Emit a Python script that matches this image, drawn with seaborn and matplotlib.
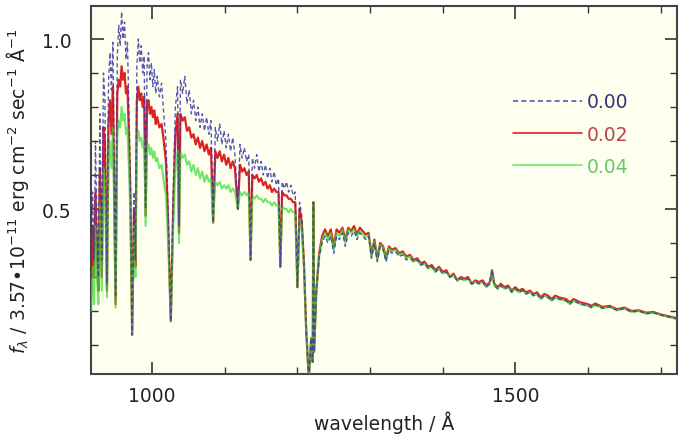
import matplotlib
matplotlib.use('Agg')
import matplotlib.pyplot as plt
from matplotlib.ticker import MultipleLocator
import seaborn as sns
import pandas as pd

# spectrum: wavelength (A) and flux for three E(B-V) values
wavelength = [
    916, 918, 920, 922, 924, 926, 928, 930.7, 933, 935, 937.8, 940, 942, 944, 946, 949.7,
    952, 954, 956, 958, 960, 962, 964, 966, 968, 970, 972.5, 975, 977, 979, 981, 983,
    985, 987, 989, 991, 993, 995, 997, 999, 1001, 1003, 1005, 1007, 1010, 1013, 1016, 1019,
    1022, 1025.7, 1029, 1032, 1035, 1037, 1039, 1042, 1045, 1048, 1051, 1054, 1057, 1060,
    1063, 1066, 1069, 1072, 1075, 1078, 1081, 1084, 1087, 1090, 1093, 1096, 1099, 1102,
    1105, 1108, 1111, 1114, 1118, 1121, 1124, 1127, 1130, 1133, 1135.5, 1138, 1141, 1144,
    1147, 1150, 1153, 1156, 1159, 1162, 1165, 1168, 1171, 1174, 1176.5, 1179, 1182, 1185,
    1188, 1191, 1194, 1197, 1200, 1203, 1206, 1209, 1212, 1215.7, 1219, 1221, 1222, 1223,
    1226, 1230, 1234, 1238, 1242, 1246, 1250, 1254, 1258, 1262, 1266, 1270, 1274, 1278,
    1282, 1286, 1290, 1294, 1298, 1302, 1306, 1310, 1314, 1318, 1322, 1326, 1330, 1335,
    1340, 1345, 1350, 1355, 1360, 1365, 1370, 1375, 1380, 1385, 1390, 1395, 1400, 1405,
    1410, 1415, 1420, 1425, 1430, 1435, 1440, 1445, 1450, 1455, 1460, 1465, 1468, 1471,
    1476, 1480, 1485, 1490, 1495, 1500, 1505, 1510, 1515, 1520, 1525, 1530, 1535, 1540,
    1545, 1550, 1555, 1560, 1570, 1575, 1580, 1590, 1600, 1605, 1610, 1620, 1630, 1640,
    1650, 1660, 1670, 1680, 1690, 1700, 1710, 1720, 1728,
]

flux_000 = [
    0.30, 0.55, 0.35, 0.70, 0.45, 0.30, 0.78, 0.35, 0.90, 0.82, 0.28, 0.88, 0.96, 0.85, 0.99, 0.24,
    0.95, 1.04, 0.98, 1.08, 1.00, 1.05, 0.94, 0.99, 0.80, 0.60, 0.13, 0.55, 0.35, 0.92, 1.00, 0.93,
    0.98, 0.90, 0.95, 0.50, 0.92, 0.96, 0.88, 0.93, 0.86, 0.91, 0.84, 0.89, 0.83, 0.87, 0.78, 0.70,
    0.50, 0.17, 0.55, 0.80, 0.86, 0.45, 0.88, 0.84, 0.89, 0.81, 0.85, 0.78, 0.82, 0.76,
    0.80, 0.74, 0.78, 0.73, 0.77, 0.72, 0.76, 0.46, 0.74, 0.70, 0.75, 0.69, 0.73, 0.68,
    0.72, 0.67, 0.71, 0.66, 0.50, 0.69, 0.65, 0.68, 0.64, 0.66, 0.35, 0.65, 0.62, 0.66,
    0.61, 0.64, 0.60, 0.63, 0.59, 0.62, 0.58, 0.61, 0.57, 0.59, 0.33, 0.58, 0.56, 0.58,
    0.55, 0.57, 0.54, 0.55, 0.27, 0.52, 0.48, 0.35, 0.15, 0.00, 0.12, 0.05, 0.52, 0.08,
    0.25, 0.36, 0.40, 0.42, 0.40, 0.42, 0.37, 0.42, 0.41, 0.43, 0.39, 0.43, 0.42, 0.435,
    0.41, 0.43, 0.42, 0.41, 0.42, 0.355, 0.40, 0.345, 0.39, 0.38, 0.345, 0.38, 0.37, 0.375,
    0.36, 0.365, 0.35, 0.355, 0.345, 0.35, 0.335, 0.34, 0.325, 0.33, 0.315, 0.325, 0.31, 0.315,
    0.30, 0.305, 0.29, 0.295, 0.29, 0.295, 0.28, 0.285, 0.28, 0.285, 0.27, 0.28, 0.32, 0.275,
    0.265, 0.275, 0.265, 0.27, 0.255, 0.265, 0.255, 0.26, 0.25, 0.255, 0.245, 0.25, 0.235, 0.245,
    0.24, 0.23, 0.24, 0.235, 0.23, 0.22, 0.23, 0.22, 0.215, 0.21, 0.218, 0.208, 0.212, 0.202,
    0.207, 0.197, 0.2, 0.192, 0.195, 0.188, 0.183, 0.178, 0.173,
]

flux_002 = [
    0.25, 0.45, 0.30, 0.55, 0.38, 0.26, 0.62, 0.30, 0.74, 0.70, 0.26, 0.76, 0.82, 0.72, 0.86, 0.22,
    0.84, 0.88, 0.86, 0.92, 0.88, 0.90, 0.84, 0.86, 0.72, 0.55, 0.13, 0.50, 0.33, 0.82, 0.86, 0.82,
    0.84, 0.80, 0.83, 0.48, 0.81, 0.82, 0.78, 0.80, 0.77, 0.79, 0.75, 0.77, 0.74, 0.75, 0.70, 0.64,
    0.46, 0.17, 0.50, 0.72, 0.78, 0.43, 0.78, 0.76, 0.77, 0.73, 0.74, 0.71, 0.72, 0.69,
    0.71, 0.68, 0.70, 0.67, 0.69, 0.66, 0.68, 0.46, 0.67, 0.65, 0.67, 0.64, 0.66, 0.63,
    0.65, 0.62, 0.64, 0.62, 0.50, 0.63, 0.61, 0.62, 0.60, 0.61, 0.35, 0.60, 0.59, 0.60,
    0.58, 0.59, 0.57, 0.58, 0.56, 0.57, 0.55, 0.56, 0.55, 0.55, 0.33, 0.55, 0.54, 0.54,
    0.53, 0.53, 0.52, 0.52, 0.27, 0.50, 0.46, 0.34, 0.15, 0.00, 0.12, 0.05, 0.52, 0.08,
    0.26, 0.37, 0.42, 0.44, 0.42, 0.44, 0.39, 0.44, 0.43, 0.445, 0.41, 0.445, 0.435, 0.45,
    0.425, 0.445, 0.435, 0.425, 0.43, 0.365, 0.41, 0.355, 0.40, 0.39, 0.355, 0.39, 0.38, 0.385,
    0.37, 0.375, 0.36, 0.365, 0.35, 0.355, 0.34, 0.345, 0.33, 0.335, 0.32, 0.33, 0.315, 0.32,
    0.30, 0.31, 0.29, 0.30, 0.295, 0.30, 0.28, 0.29, 0.285, 0.29, 0.275, 0.285, 0.32, 0.28,
    0.27, 0.28, 0.27, 0.275, 0.26, 0.27, 0.26, 0.265, 0.255, 0.26, 0.25, 0.255, 0.24, 0.25,
    0.245, 0.235, 0.245, 0.24, 0.235, 0.225, 0.235, 0.225, 0.22, 0.215, 0.222, 0.212, 0.215, 0.205,
    0.21, 0.2, 0.202, 0.195, 0.197, 0.19, 0.185, 0.18, 0.175,
]

flux_004 = [
    0.20, 0.33, 0.22, 0.45, 0.30, 0.22, 0.52, 0.26, 0.62, 0.58, 0.24, 0.64, 0.70, 0.62, 0.74, 0.21,
    0.72, 0.76, 0.74, 0.80, 0.76, 0.78, 0.72, 0.74, 0.62, 0.48, 0.13, 0.45, 0.30, 0.70, 0.73, 0.70,
    0.71, 0.68, 0.70, 0.45, 0.68, 0.69, 0.66, 0.68, 0.65, 0.67, 0.64, 0.65, 0.62, 0.63, 0.58, 0.54,
    0.40, 0.17, 0.44, 0.62, 0.67, 0.40, 0.67, 0.65, 0.66, 0.63, 0.64, 0.61, 0.63, 0.60,
    0.62, 0.59, 0.61, 0.58, 0.60, 0.58, 0.59, 0.46, 0.58, 0.57, 0.58, 0.56, 0.57, 0.56,
    0.57, 0.55, 0.56, 0.55, 0.50, 0.55, 0.54, 0.55, 0.54, 0.55, 0.35, 0.54, 0.53, 0.54,
    0.53, 0.53, 0.52, 0.53, 0.52, 0.52, 0.51, 0.52, 0.51, 0.51, 0.33, 0.51, 0.50, 0.50,
    0.49, 0.50, 0.49, 0.49, 0.27, 0.47, 0.44, 0.33, 0.15, 0.00, 0.12, 0.05, 0.52, 0.08,
    0.25, 0.36, 0.41, 0.43, 0.41, 0.43, 0.38, 0.43, 0.42, 0.44, 0.40, 0.44, 0.43, 0.44,
    0.42, 0.435, 0.425, 0.415, 0.425, 0.36, 0.405, 0.35, 0.395, 0.385, 0.35, 0.385, 0.375, 0.38,
    0.365, 0.37, 0.355, 0.36, 0.345, 0.35, 0.335, 0.34, 0.325, 0.33, 0.315, 0.325, 0.31, 0.315,
    0.30, 0.305, 0.29, 0.295, 0.29, 0.295, 0.28, 0.285, 0.28, 0.285, 0.27, 0.28, 0.32, 0.275,
    0.265, 0.275, 0.265, 0.27, 0.255, 0.265, 0.255, 0.26, 0.25, 0.255, 0.245, 0.25, 0.235, 0.245,
    0.24, 0.23, 0.24, 0.235, 0.23, 0.22, 0.23, 0.22, 0.215, 0.21, 0.218, 0.208, 0.212, 0.202,
    0.207, 0.197, 0.2, 0.192, 0.195, 0.188, 0.183, 0.178, 0.173,
]

ebv_labels = ['0.00', '0.02', '0.04']
line_colors = ['#3a3aa8', '#dd2222', '#33dd33']
label_colors = ['#333377', '#b84444', '#66c866']

sns.set_theme(style="ticks")
plt.rcParams['font.family'] = ['DejaVu Sans']

fig = plt.figure(figsize=(6.8, 4.39), dpi=100)
ax = fig.add_axes([0.134, 0.146, 0.862, 0.838])
ax.set_facecolor('#fffff0')

series = [flux_000, flux_002, flux_004]
styles = [dict(lw=1.0, dashes=(3, 2), alpha=0.85, zorder=4),
          dict(lw=1.6, alpha=1.0, zorder=2),
          dict(lw=1.5, alpha=0.7, zorder=3)]
for flux, lab, col, st in zip(series, ebv_labels, line_colors, styles):
    df = pd.DataFrame({'wavelength': wavelength, 'flux': flux})
    sns.lineplot(data=df, x='wavelength', y='flux', ax=ax, color=col, label=lab,
                 estimator=None, sort=False, **st)

ax.set_xlim(916, 1723)
ax.set_ylim(0.015, 1.097)

ax.xaxis.set_major_locator(MultipleLocator(500))
ax.xaxis.set_minor_locator(MultipleLocator(100))
ax.yaxis.set_major_locator(MultipleLocator(0.5))
ax.yaxis.set_minor_locator(MultipleLocator(0.1))
ax.tick_params(which='both', direction='in', top=True, right=True, colors='#333333',
               labelsize=13.5)
ax.tick_params(which='major', length=9, width=1.2)
ax.tick_params(which='minor', length=5, width=1.0)
ax.tick_params(axis='x', pad=9, labelcolor='#222222')
ax.tick_params(axis='y', pad=14, labelcolor='#222222')
for sp in ax.spines.values():
    sp.set_color('#444444')
    sp.set_linewidth(1.5)

ax.set_xlabel('wavelength / Å', fontsize=13.5, color='#222222', labelpad=4)
ax.set_ylabel(r'$f_\lambda$ / 3.57•10$^{-11}$ erg cm$^{-2}$ sec$^{-1}$ Å$^{-1}$',
              fontsize=13.5, color='#222222', labelpad=8)

leg = ax.legend(loc='upper left', bbox_to_anchor=(0.691, 0.811), frameon=False,
                handlelength=3.7, handletextpad=0.25, labelspacing=0.7, fontsize=13.5)
for txt, c in zip(leg.get_texts(), label_colors):
    txt.set_color(c)
for h in leg.get_lines():
    h.set_linewidth(1.2)

fig.savefig('out.png', dpi=100)
